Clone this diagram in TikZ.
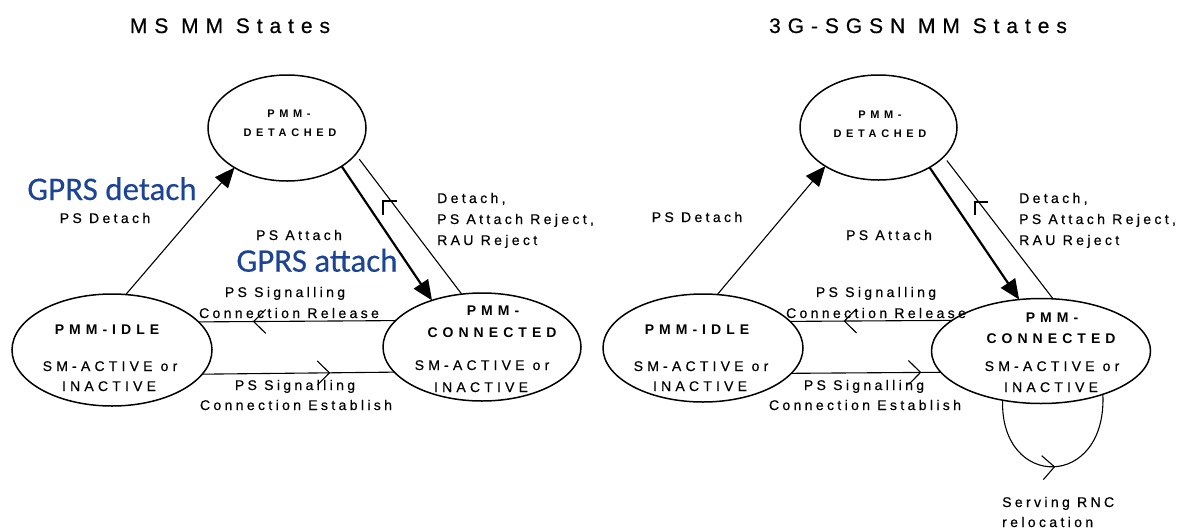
\documentclass[tikz,border=0pt]{standalone}
\usepackage{fontspec}
\setmainfont{Liberation Sans}
\newfontfamily\lblfont[LetterSpace=24,FakeBold=0.5]{Liberation Sans}
\newfontfamily\stfont[LetterSpace=36]{Liberation Sans}
\newfontfamily\subfont[LetterSpace=30,FakeBold=0.5]{Liberation Sans}
\newfontfamily\detfont[LetterSpace=42]{Liberation Sans}
\newfontfamily\ttlfont[LetterSpace=33,FakeBold=0.5]{Liberation Sans}
\newfontfamily\gprsfont[FakeBold=0.3]{Carlito}
\usetikzlibrary{shapes.geometric,arrows.meta,decorations.markings}
\definecolor{gprsblue}{RGB}{28,68,150}
\tikzset{
  stateell/.style={ellipse, draw, line width=1.5pt, inner sep=0pt, outer sep=0pt},
  lbl/.style={anchor=base, inner sep=0pt, font=\lblfont\fontsize{14}{16}\selectfont},
  lblw/.style={anchor=base west, inner sep=0pt, font=\lblfont\fontsize{14}{16}\selectfont},
  sname/.style={anchor=base, inner sep=0pt, font=\stfont\bfseries\fontsize{14}{16}\selectfont},
  ssub/.style={anchor=base, inner sep=0pt, font=\subfont\fontsize{14}{16}\selectfont},
  dname/.style={anchor=base, inner sep=0pt, font=\detfont\bfseries\fontsize{11}{13}\selectfont},
  ttl/.style={anchor=base, inner sep=0pt, font=\ttlfont\fontsize{21}{24}\selectfont},
  gprs/.style={anchor=base, inner sep=0pt, text=gprsblue, font=\gprsfont\fontsize{33}{38}\selectfont},
  conn/.style={line width=1.1pt},
  thickconn/.style={line width=2.2pt},
  bigarrow/.style={-{Triangle[length=20pt,width=17pt]}},
  chev/.style={postaction={decorate}, decoration={markings, mark=at position #1 with {\arrow{Straight Barb[length=12pt,width=24pt]}}}},
}
\begin{document}
\begin{tikzpicture}[x=1pt,y=-1pt]
\useasboundingbox (0,0) rectangle (1184,528);
\fill[white] (0,0) rectangle (1184,528);

% ---------------- Left diagram ----------------
\node[ttl] (ttlL) at (230,33) {MS MM States};

\node[stateell, minimum width=158pt, minimum height=106pt] (detL) at (287,128) {};
\node[stateell, minimum width=200pt, minimum height=112pt] (idleL) at (112,350) {};
\node[stateell, minimum width=198pt, minimum height=108pt] (connL) at (482,347) {};

\node[dname] (detLa) at (289,117) {PMM-};
\node[dname] (detLb) at (290,136) {DETACHED};

\node[sname] (idleLa) at (107,334) {PMM-IDLE};
\node[ssub] (idleLb) at (110,371) {SM-ACTIVE or};
\node[ssub] (idleLc) at (109,391) {INACTIVE};

\node[sname] (connLa) at (493,315) {PMM-};
\node[sname] (connLb) at (492,337) {CONNECTED};
\node[ssub] (connLc) at (482,370) {SM-ACTIVE or};
\node[ssub] (connLd) at (481,392) {INACTIVE};

% connectors
\draw[conn, bigarrow] (idleL.76) -- (detL.217);
\draw[thickconn, bigarrow] (detL.325) -- (connL.137);
\draw[conn, shorten >=6pt] (connL.111) -- (detL.339);
\draw[conn] (383,215) -- (383,201) -- (397,201);
\draw[conn, chev=0.724] (connL.163.3) -- (idleL.18.7);
\draw[conn, chev=0.666] (idleL.345.8) -- (connL.196.7);

% labels
\node[gprs] (gdet) at (112,200) {GPRS detach};
\node[lbl] (psdetL) at (105,223) {PS Detach};
\node[lbl] (psattL) at (299,240) {PS Attach};
\node[gprs] (gatt) at (317,271.7) {GPRS attach};
\node[lbl] (relL1) at (285,297) {PS Signalling};
\node[lbl] (relL2) at (289,318) {Connection Release};
\node[lbl] (estL1) at (295,390) {PS Signalling};
\node[lbl] (estL2) at (296,410) {Connection Establish};
\node[lblw] (rejL1) at (437,203) {Detach,};
\node[lblw] (rejL2) at (437,224) {PS Attach Reject,};
\node[lblw] (rejL3) at (437,245) {RAU Reject};

% ---------------- Right diagram ----------------
\node[ttl] (ttlR) at (918,33) {3G-SGSN MM States};

\node[stateell, minimum width=157pt, minimum height=105pt] (detR) at (878.5,127.5) {};
\node[stateell, minimum width=200pt, minimum height=108pt] (idleR) at (703,348) {};
\node[stateell, minimum width=219pt, minimum height=105pt] (connR) at (1041,351) {};

\node[dname] (detRa) at (880,118) {PMM-};
\node[dname] (detRb) at (880,137) {DETACHED};

\node[sname] (idleRa) at (697,334) {PMM-IDLE};
\node[ssub] (idleRb) at (701,371) {SM-ACTIVE or};
\node[ssub] (idleRc) at (700,391) {INACTIVE};

\node[sname] (connRa) at (1052,322) {PMM-};
\node[sname] (connRb) at (1051,343) {CONNECTED};
\node[ssub] (connRc) at (1052,371) {SM-ACTIVE or};
\node[ssub] (connRd) at (1051,392) {INACTIVE};

% connectors
\draw[conn, bigarrow] (idleR.75.5) -- (detR.216.3);
\draw[thickconn, bigarrow] (detR.322.9) -- (connR.113);
\draw[conn, shorten >=5pt] (connR.77.4) -- (detR.336.8);
\draw[conn] (975,215) -- (975,202) -- (988,202);
\draw[conn, chev=0.669] (connR.161.55) -- (idleR.17.3);
\draw[conn, chev=0.869] (idleR.344.2) -- (connR.192.5);
\draw[conn, chev=0.5] (connR.232.6) .. controls (1000,490) and (1107,490) .. (connR.325.5);

% labels
\node[lbl] (psdetR) at (697,222) {PS Detach};
\node[lbl] (psattR) at (889,240) {PS Attach};
\node[lbl] (relR1) at (876,297) {PS Signalling};
\node[lbl] (relR2) at (876,318) {Connection Release};
\node[lbl] (estR1) at (864,390) {PS Signalling};
\node[lbl] (estR2) at (865,410) {Connection Establish};
\node[lblw] (rejR1) at (1019,203) {Detach,};
\node[lblw] (rejR2) at (1019,224) {PS Attach Reject,};
\node[lblw] (rejR3) at (1019,245) {RAU Reject};
\node[lblw] (srnc1) at (1002,507) {Serving RNC};
\node[lblw] (srnc2) at (1002,527) {relocation};
\end{tikzpicture}
\end{document}
